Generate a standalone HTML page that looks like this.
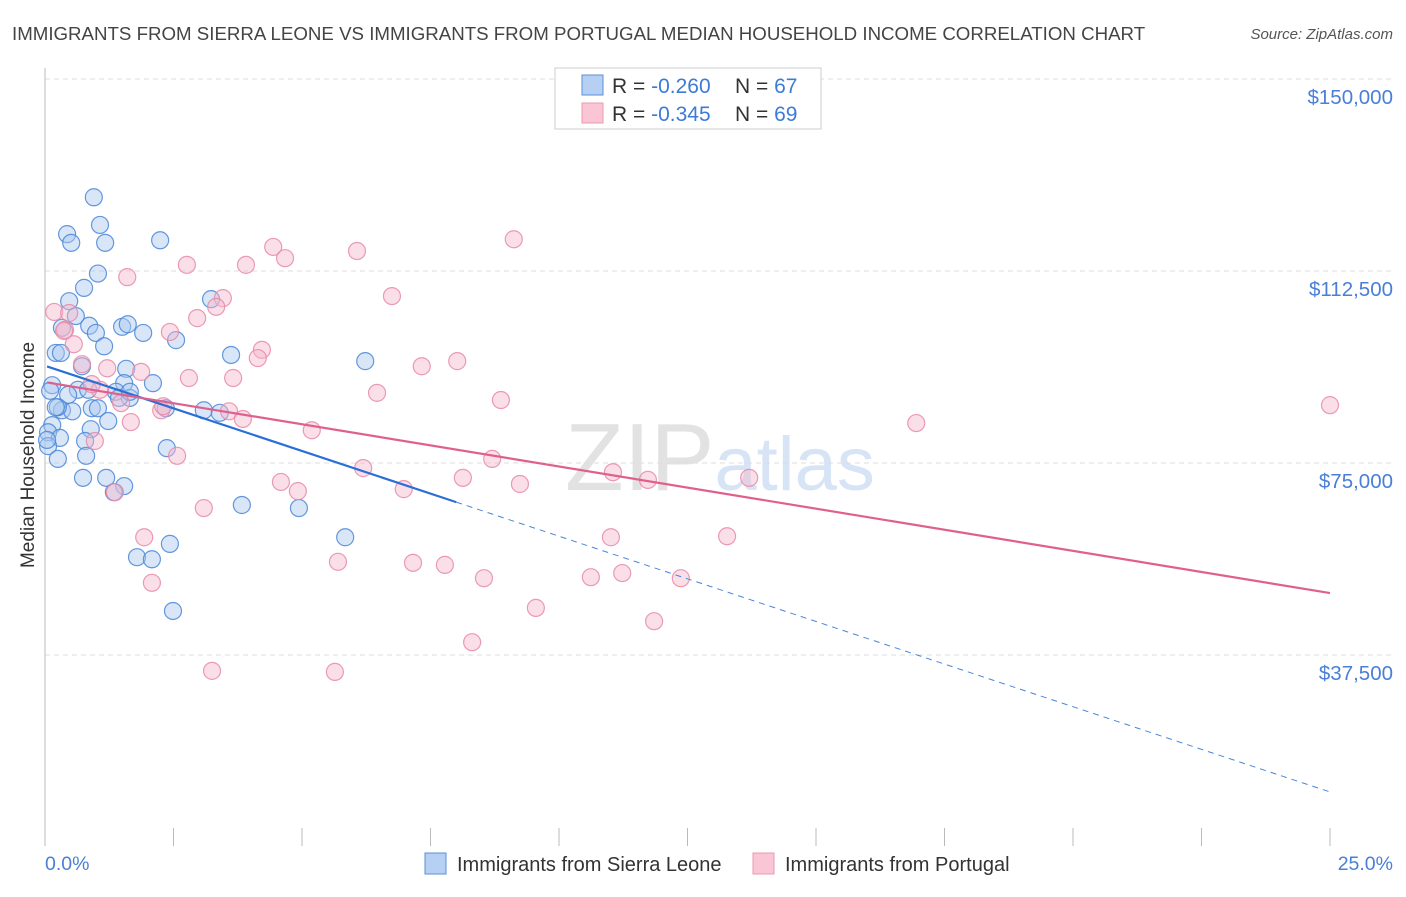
<!DOCTYPE html>
<html><head><meta charset="utf-8"><style>
body{margin:0;background:#fff;font-family:"Liberation Sans",sans-serif;}
svg text{font-family:"Liberation Sans",sans-serif;}
</style></head><body>
<svg id="chart" width="1406" height="892" xmlns="http://www.w3.org/2000/svg">
<text x="12" y="40" font-size="18.7" fill="#444">IMMIGRANTS FROM SIERRA LEONE VS IMMIGRANTS FROM PORTUGAL MEDIAN HOUSEHOLD INCOME CORRELATION CHART</text>
<text x="1393" y="39" font-size="15" fill="#555" font-style="italic" text-anchor="end">Source: ZipAtlas.com</text>
<text x="720" y="490" font-size="96" fill="#e2e2e2" text-anchor="middle" font-family="Liberation Serif"><tspan>ZIP</tspan><tspan fill="#d6e4f5" font-family="Liberation Sans" font-size="76">atlas</tspan></text>
<g id="grid"></g>
<g id="marks"></g>
<text transform="translate(34,455) rotate(-90)" font-size="19" fill="#333" text-anchor="middle">Median Household Income</text>
<text x="45" y="870" font-size="19.5" fill="#4a7fd6">0.0%</text>
<text x="1393" y="870" font-size="19.5" fill="#4a7fd6" text-anchor="end">25.0%</text>
<g>
<rect x="555" y="68" width="266" height="61" fill="#fff" stroke="#ccc"/>
<rect x="582" y="75" width="21" height="20" fill="#b5d0f3" stroke="#5b8fd9"/>
<rect x="582" y="103" width="21" height="20" fill="#fac5d5" stroke="#ec98b3"/>
<text x="612" y="93" font-size="21" fill="#333">R = <tspan fill="#3d7bd6">-0.260</tspan><tspan x="735">N = </tspan><tspan fill="#3d7bd6">67</tspan></text>
<text x="612" y="121" font-size="21" fill="#333">R = <tspan fill="#3d7bd6">-0.345</tspan><tspan x="735">N = </tspan><tspan fill="#3d7bd6">69</tspan></text>
</g>
<g><rect x="425" y="853" width="21" height="21" fill="#b5d0f3" stroke="#5b8fd9"/><text x="457" y="871" font-size="20" fill="#333">Immigrants from Sierra Leone</text></g>
<g><rect x="753" y="853" width="21" height="21" fill="#fac5d5" stroke="#ec98b3"/><text x="785" y="871" font-size="20" fill="#333">Immigrants from Portugal</text></g>
</svg>
<script>
const yTicks=[37500,75000,112500,150000];
const yTickLabels=["$37,500","$75,000","$112,500","$150,000"];
const xTicks=[0,2.5,5,7.5,10,12.5,15,17.5,20,22.5,25];
const blueX=[0.95,1.07,0.43,0.51,1.17,2.24,1.03,0.76,0.47,3.23,0.60,0.33,0.86,1.50,1.61,1.91,0.99,2.55,1.15,0.21,0.31,3.62,6.23,0.72,1.58,2.10,0.14,1.54,0.64,1.38,0.45,1.65,1.44,3.09,0.91,3.40,2.35,0.33,0.53,1.03,0.25,1.23,0.89,0.14,0.06,0.29,0.78,0.06,2.37,0.25,0.80,0.74,1.19,1.54,1.34,3.83,4.94,5.84,2.43,1.79,2.08,2.49,0.04,0.10,1.65,0.21,0.84];
const blueY=[126.9,121.5,119.7,118.0,118.0,118.5,112.0,109.2,106.6,107.0,103.7,101.4,101.8,101.6,102.1,100.4,100.4,99.0,97.8,96.5,96.5,96.1,94.9,93.9,93.4,90.6,90.2,90.6,89.3,88.9,88.3,87.7,87.7,85.3,85.7,84.8,85.7,85.3,85.1,85.7,85.9,83.2,81.6,82.4,81.0,79.9,79.3,78.3,77.9,75.8,76.4,72.1,72.1,70.5,69.3,66.8,66.2,60.5,59.2,56.6,56.2,46.1,79.5,89.1,88.9,85.9,89.3];
const pinkX=[0.18,0.47,0.39,0.56,0.72,0.37,1.21,1.07,0.91,1.60,2.76,3.91,4.44,4.67,6.07,9.12,6.75,3.46,3.33,2.96,2.43,4.22,4.14,3.66,2.80,1.87,6.46,7.33,8.02,8.87,2.26,1.67,1.48,3.58,3.85,5.19,2.30,16.95,25.0,0.97,2.57,6.19,8.13,8.70,11.05,11.73,13.70,4.59,4.92,6.98,9.24,1.36,3.09,1.93,11.01,13.27,5.70,7.16,7.78,8.54,10.62,11.23,12.37,2.08,9.55,11.85,8.31,3.25,5.64];
const pinkY=[104.5,104.3,101.0,98.2,94.3,100.8,93.5,89.3,90.4,111.3,113.7,113.7,117.2,115.0,116.4,118.7,107.6,107.2,105.5,103.3,100.6,97.1,95.5,91.6,91.6,92.8,88.7,93.9,94.9,87.3,85.3,83.0,86.7,85.1,83.6,81.4,86.1,82.8,86.3,79.3,76.4,74.0,72.1,75.8,73.2,71.7,72.1,71.3,69.5,69.9,70.9,69.3,66.2,60.5,60.5,60.7,55.7,55.5,55.1,52.5,52.7,53.5,52.5,51.6,46.7,44.1,40.0,34.4,34.2];
const blueTrend=[94.0,-3.33];
const pinkTrend=[90.8,-1.648];
const NS="http://www.w3.org/2000/svg";
const X=p=>45+p*(1285/25);
const Y=v=>847-v*(192/37500);
const Yk=k=>Y(k*1000);
function mk(tag,attrs,parent){const e=document.createElementNS(NS,tag);for(const k in attrs)e.setAttribute(k,attrs[k]);parent.appendChild(e);return e;}
const grid=document.getElementById('grid'),marks=document.getElementById('marks');
yTicks.forEach((t,i)=>{
 const l=mk('line',{x1:45,x2:1393,y1:Y(t),y2:Y(t),stroke:'#ddd','stroke-dasharray':'5,4'},grid);
 
 
 const tx=mk('text',{x:1393,y:Y(t)+25,'font-size':20.5,fill:'#4a7fd6','text-anchor':'end'},grid);
 tx.textContent=yTickLabels[i];
 
 
});
const ax=mk('line',{x1:45,x2:45,y1:68,y2:846,stroke:'#bbb'},grid);


xTicks.forEach(t=>{
 const l=mk('line',{x1:X(t),x2:X(t),y1:828,y2:846,stroke:'#bbb'},grid);
 
 
});
function dots(xs,ys,fill,stroke,name){
 xs.forEach((x,i)=>{
  const c=mk('circle',{cx:X(x),cy:Yk(ys[i]),r:8.5,fill:fill,'fill-opacity':0.45,stroke:stroke,'stroke-width':1.2,'stroke-opacity':0.85},marks);
  
  
 });
}
dots(blueX,blueY,'#a9c8ef','#4a86d8','sierra-leone-point');
dots(pinkX,pinkY,'#f5b8cb','#e88aa8','portugal-point');
const bEnd=8.0;
const b1=mk('line',{x1:X(0.04),y1:Yk(blueTrend[0]+blueTrend[1]*0.04),x2:X(bEnd),y2:Yk(blueTrend[0]+blueTrend[1]*bEnd),stroke:'#2b6fd6','stroke-width':2.2},marks);


const b2=mk('line',{x1:X(bEnd),y1:Yk(blueTrend[0]+blueTrend[1]*bEnd),x2:X(25),y2:Yk(blueTrend[0]+blueTrend[1]*25),stroke:'#4a86d8','stroke-width':1,'stroke-dasharray':'6,5'},marks);


const p1=mk('line',{x1:X(0.04),y1:Yk(pinkTrend[0]+pinkTrend[1]*0.04),x2:X(25),y2:Yk(pinkTrend[0]+pinkTrend[1]*25),stroke:'#e0608d','stroke-width':2.2},marks);


</script>
</body></html>
